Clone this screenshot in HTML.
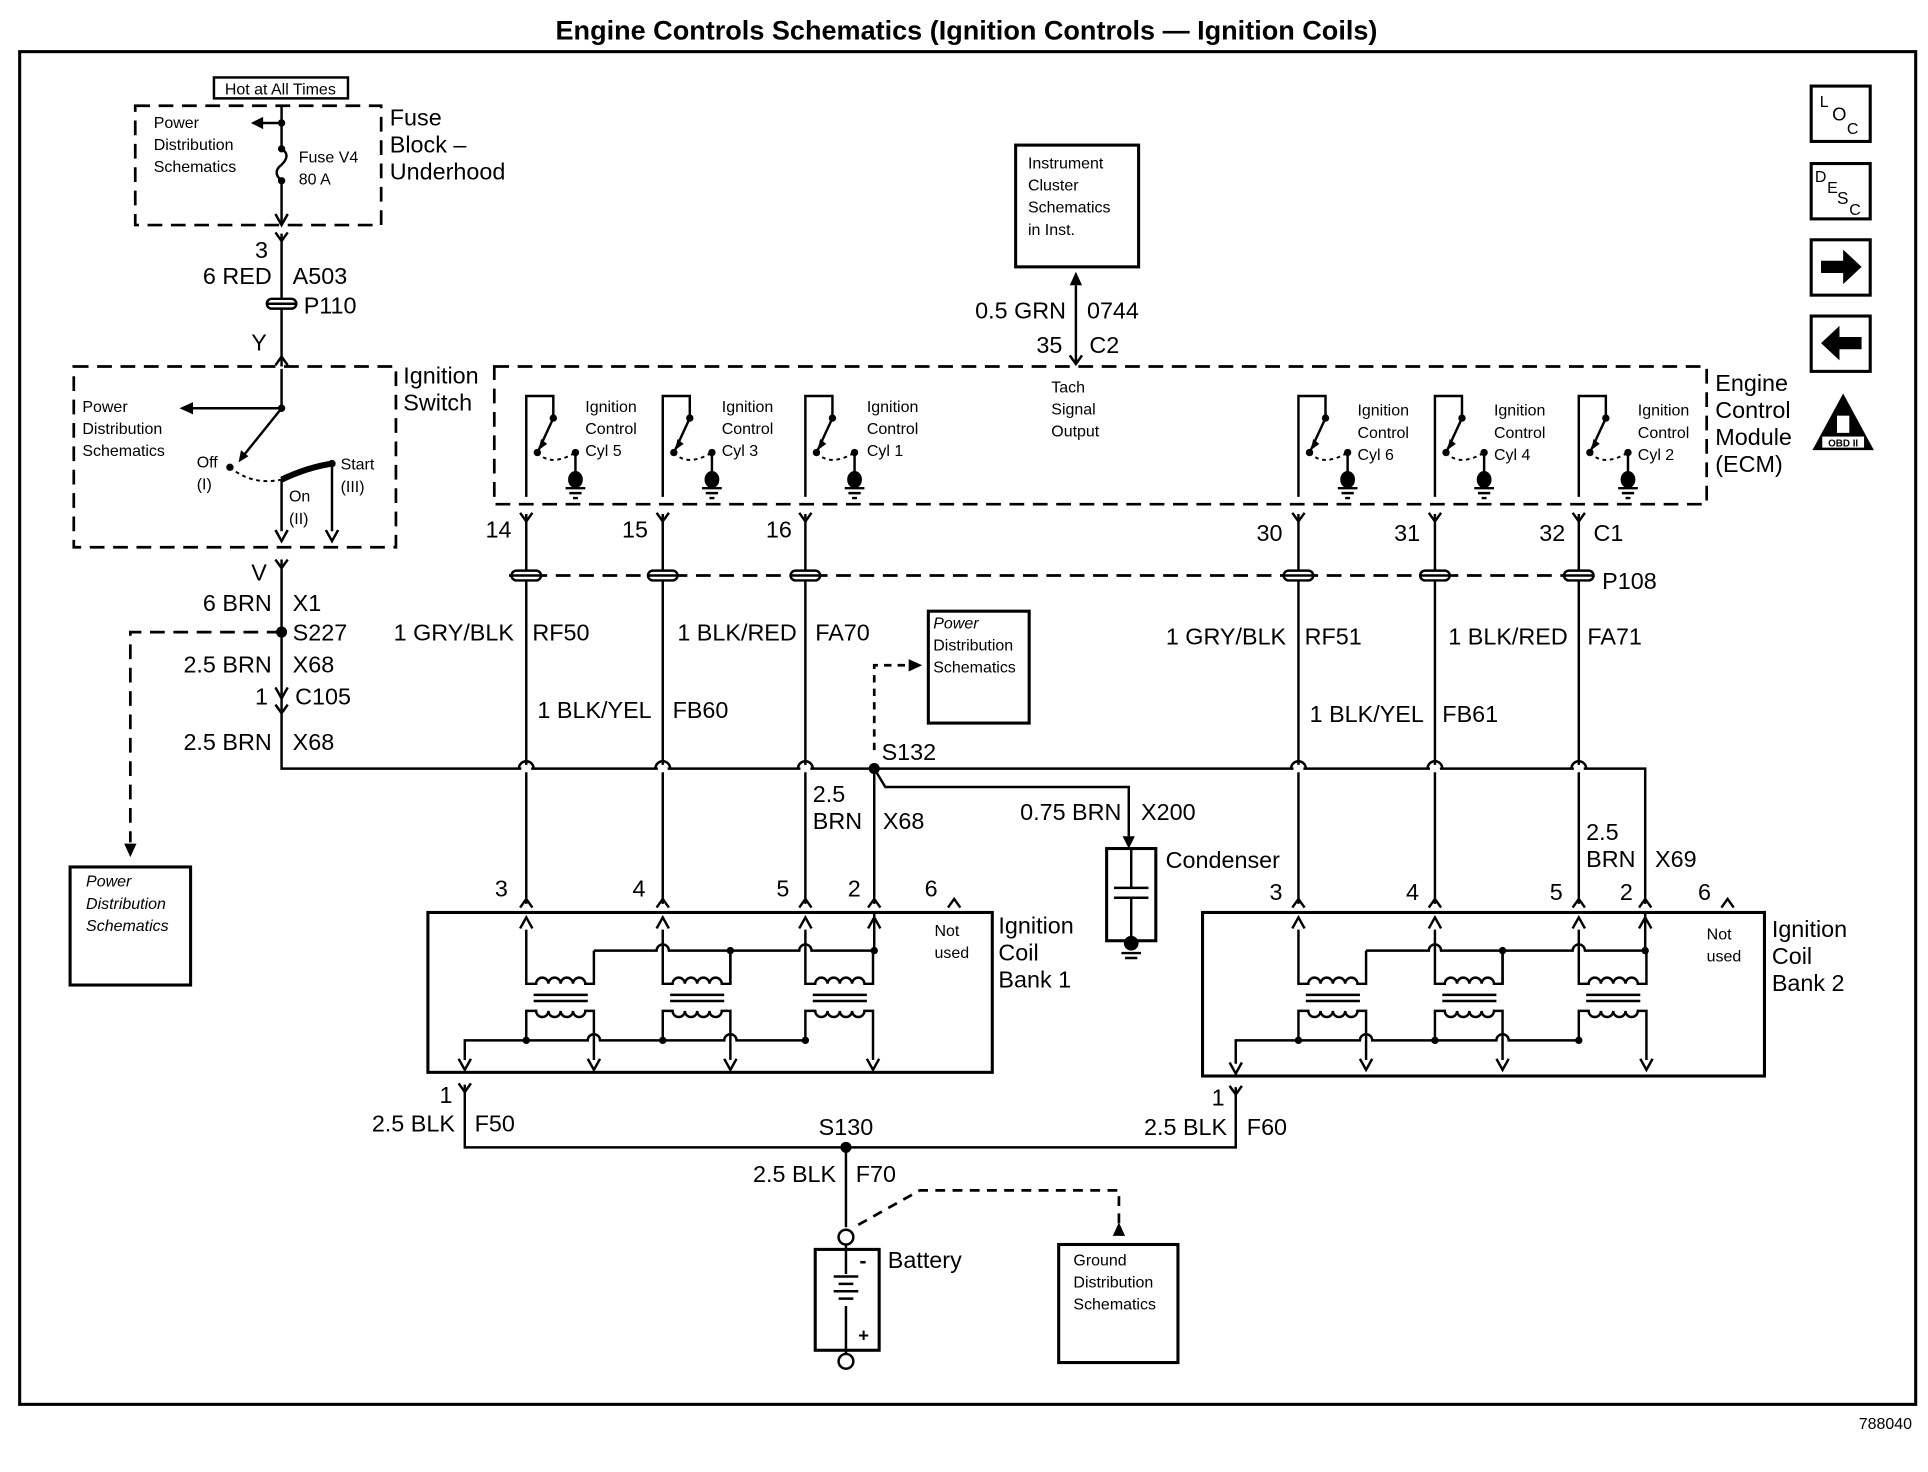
<!DOCTYPE html>
<html><head><meta charset="utf-8"><style>
html,body{margin:0;padding:0;background:#fff}
svg{display:block}
text{font-family:"Liberation Sans",Arial,sans-serif;fill:#000}
.l{font-size:19px}
.s{font-size:13px}
.w{stroke:#000;stroke-width:2;fill:none}
.d{stroke:#000;stroke-width:2.2;fill:none;stroke-dasharray:12,7}
.dt{stroke:#000;stroke-width:1.6;fill:none;stroke-dasharray:3,3}
</style></head><body>
<svg width="1928" height="1472" viewBox="0 0 1568 1197" preserveAspectRatio="none" xmlns="http://www.w3.org/2000/svg">
<defs>
<path id="up" d="M-5,9 L0,0 L5,9" class="w"/>
<path id="dn" d="M-5,-9 L0,0 L5,-9" class="w"/>
<path id="fk" d="M-5,-7 L0,0 L5,-7" class="w"/>
<path id="ch" d="M-5,0 L0,-7 L5,0" class="w"/>
<g id="conn"><rect x="-12" y="-4" width="24" height="8" rx="4" fill="#fff" stroke="#000" stroke-width="2"/><line x1="-12" y1="0" x2="12" y2="0" stroke="#000" stroke-width="2"/></g>
<g id="sw">
<path class="w" d="M0,106 V24 H22 V42 L10,68"/>
<path d="M10,68 l2,-9 l5,4z" fill="#000"/>
<circle cx="22" cy="42" r="3"/><circle cx="9" cy="70" r="3"/><circle cx="40" cy="70" r="3"/>
<path class="dt" d="M9,70 Q20,82 40,70"/>
<path class="w" d="M40,70 V88"/>
<ellipse cx="40" cy="92" rx="6" ry="7"/>
<path class="w" d="M32,99 H48 M35,103 H45 M38,107 H42"/>
</g>
<g id="coil">
<path class="w" d="M0,756 V800 H8 a5,5 0 0 1 10,0 a5,5 0 0 1 10,0 a5,5 0 0 1 10,0 a5,5 0 0 1 10,0 H55 V773"/>
<path class="w" d="M6,809 H50 M6,814 H50" stroke-width="2.5"/>
<path class="w" d="M0,846 V822 H8 a5,5 0 0 0 10,0 a5,5 0 0 0 10,0 a5,5 0 0 0 10,0 a5,5 0 0 0 10,0 H55 V862"/>
<use href="#dn" x="55" y="870"/>
<use href="#up" x="0" y="746"/>
<circle cx="0" cy="846" r="3"/>
</g>
</defs>

<text x="786" y="32" text-anchor="middle" style="font-size:22px;font-weight:bold">Engine Controls Schematics (Ignition Controls — Ignition Coils)</text>
<rect x="16" y="42" width="1542" height="1100" fill="none" stroke="#000" stroke-width="2.5"/>
<text x="1555" y="1162" text-anchor="end" class="s">788040</text>

<rect x="1473" y="70" width="48" height="45" fill="none" stroke="#000" stroke-width="2.5"/>
<text x="1480" y="87" class="s">L</text><text x="1490" y="98" style="font-size:15px">O</text><text x="1502" y="109" class="s">C</text>
<rect x="1473" y="133" width="48" height="45" fill="none" stroke="#000" stroke-width="2.5"/>
<text x="1476" y="148" class="s">D</text><text x="1486" y="157" class="s">E</text><text x="1494" y="166" style="font-size:14px">S</text><text x="1504" y="175" class="s">C</text>
<rect x="1473" y="195" width="48" height="45" fill="none" stroke="#000" stroke-width="2.5"/>
<path d="M1481,212 H1499 V203 L1514,217 L1499,231 V222 H1481z"/>
<rect x="1473" y="257" width="48" height="45" fill="none" stroke="#000" stroke-width="2.5"/>
<path d="M1514,274 H1496 V265 L1481,279 L1496,293 V284 H1514z"/>
<path d="M1499,320 L1524,366 H1474z"/>
<rect x="1494" y="338" width="10" height="14" fill="#fff"/>
<rect x="1482" y="355" width="34" height="9" fill="#fff"/>
<text x="1499" y="363" text-anchor="middle" style="font-size:8px;font-weight:bold">OBD II</text>

<rect x="174" y="63" width="109" height="17" fill="none" stroke="#000" stroke-width="2"/>
<text x="228" y="77" text-anchor="middle" class="s">Hot at All Times</text>
<rect x="110" y="86" width="200" height="97" class="d"/>
<text x="125" y="104" class="s">Power</text><text x="125" y="122" class="s">Distribution</text><text x="125" y="140" class="s">Schematics</text>
<path class="w" d="M229,86 V120 M229,100 H212 M229,148 V183"/>
<path d="M204,100 l10,-5 v10z"/>
<circle cx="229" cy="100" r="3"/><circle cx="229" cy="121" r="3"/><circle cx="229" cy="147" r="3"/>
<path class="w" d="M229,121 q8,5 0,13 q-8,6 0,13"/>
<text x="243" y="132" class="s">Fuse V4</text><text x="243" y="150" class="s">80 A</text>
<text x="317" y="102" class="l">Fuse</text><text x="317" y="124" class="l">Block –</text><text x="317" y="146" class="l">Underhood</text>
<use href="#dn" x="229" y="183"/><use href="#fk" x="229" y="196"/>
<path class="w" d="M229,190 V298"/>
<text x="218" y="210" text-anchor="end" class="l">3</text>
<text x="221" y="231" text-anchor="end" class="l">6 RED</text><text x="238" y="231" class="l">A503</text>
<use href="#conn" x="229" y="247"/><text x="247" y="255" class="l">P110</text>
<text x="217" y="285" text-anchor="end" class="l">Y</text>
<use href="#ch" x="229" y="297"/>

<rect x="60" y="298" width="262" height="147" class="d"/>
<text x="328" y="312" class="l">Ignition</text><text x="328" y="334" class="l">Switch</text>
<text x="67" y="335" class="s">Power</text><text x="67" y="353" class="s">Distribution</text><text x="67" y="371" class="s">Schematics</text>
<path class="w" d="M229,300 V332 H156"/><path d="M146,332 l11,-5 v10z"/>
<circle cx="229" cy="332" r="3"/>
<path class="w" d="M229,332 L196,373"/><path d="M194,376 l2,-10 l6,5z"/>
<circle cx="187" cy="380" r="3"/>
<path class="dt" d="M187,380 Q205,395 229,390"/>
<path d="M229,390 Q250,380 270,377" stroke="#000" stroke-width="5" fill="none"/>
<circle cx="270" cy="377" r="3"/>
<path class="w" d="M229,390 V432 M270,377 V432"/>
<use href="#dn" x="229" y="440"/><use href="#dn" x="270" y="440"/>
<text x="160" y="380" class="s">Off</text><text x="160" y="398" class="s">(I)</text>
<text x="235" y="408" class="s">On</text><text x="235" y="426" class="s">(II)</text>
<text x="277" y="382" class="s">Start</text><text x="277" y="400" class="s">(III)</text>

<use href="#fk" x="229" y="462"/>
<path class="w" d="M229,455 V625 H1338 V735"/>
<text x="217" y="472" text-anchor="end" class="l">V</text>
<text x="221" y="497" text-anchor="end" class="l">6 BRN</text><text x="238" y="497" class="l">X1</text>
<circle cx="229" cy="514" r="4.5"/><text x="238" y="521" class="l">S227</text>
<text x="221" y="547" text-anchor="end" class="l">2.5 BRN</text><text x="238" y="547" class="l">X68</text>
<text x="218" y="573" text-anchor="end" class="l">1</text><text x="240" y="573" class="l">C105</text>
<use href="#dn" x="229" y="568"/><use href="#fk" x="229" y="580"/>
<text x="221" y="610" text-anchor="end" class="l">2.5 BRN</text><text x="238" y="610" class="l">X68</text>
<path class="d" d="M229,514 H106 V685"/><path d="M106,697 l-5,-11 h10z"/>
<rect x="57" y="705" width="98" height="96" fill="none" stroke="#000" stroke-width="2.5"/>
<text x="70" y="721" class="s" font-style="italic">Power</text><text x="70" y="739" class="s" font-style="italic">Distribution</text><text x="70" y="757" class="s" font-style="italic">Schematics</text>

<rect x="826" y="118" width="100" height="99" fill="none" stroke="#000" stroke-width="2.5"/>
<text x="836" y="137" class="s">Instrument</text><text x="836" y="155" class="s">Cluster</text><text x="836" y="173" class="s">Schematics</text><text x="836" y="191" class="s">in Inst.</text>
<path class="w" d="M875,232 V296"/><path d="M875,221 l-5,11 h10z"/>
<text x="867" y="259" text-anchor="end" class="l">0.5 GRN</text><text x="884" y="259" class="l">0744</text>
<text x="864" y="287" text-anchor="end" class="l">35</text><text x="886" y="287" class="l">C2</text>
<use href="#fk" x="875" y="296"/>

<rect x="402" y="298" width="986" height="112" class="d"/>
<text x="1395" y="318" class="l">Engine</text><text x="1395" y="340" class="l">Control</text><text x="1395" y="362" class="l">Module</text><text x="1395" y="384" class="l">(ECM)</text>
<text x="855" y="319" class="s">Tach</text><text x="855" y="337" class="s">Signal</text><text x="855" y="355" class="s">Output</text>
<g>
<use href="#sw" x="428" y="298"/><use href="#sw" x="539" y="298"/><use href="#sw" x="655" y="298"/>
<use href="#sw" x="1056" y="298"/><use href="#sw" x="1167" y="298"/><use href="#sw" x="1284" y="298"/>
</g>
<g class="s">
<text x="476" y="335">Ignition</text><text x="476" y="353">Control</text><text x="476" y="371">Cyl 5</text>
<text x="587" y="335">Ignition</text><text x="587" y="353">Control</text><text x="587" y="371">Cyl 3</text>
<text x="705" y="335">Ignition</text><text x="705" y="353">Control</text><text x="705" y="371">Cyl 1</text>
<text x="1104" y="338">Ignition</text><text x="1104" y="356">Control</text><text x="1104" y="374">Cyl 6</text>
<text x="1215" y="338">Ignition</text><text x="1215" y="356">Control</text><text x="1215" y="374">Cyl 4</text>
<text x="1332" y="338">Ignition</text><text x="1332" y="356">Control</text><text x="1332" y="374">Cyl 2</text>
</g>
<path class="d" d="M414,468 H1290"/>
<g>
<use href="#fk" x="428" y="424"/><use href="#fk" x="539" y="424"/><use href="#fk" x="655" y="424"/>
<use href="#fk" x="1056" y="424"/><use href="#fk" x="1167" y="424"/><use href="#fk" x="1284" y="424"/>
<path class="w" d="M428,418 V735 M539,418 V735 M655,418 V735 M1056,418 V735 M1167,418 V735 M1284,418 V735"/>
<use href="#conn" x="428" y="468"/><use href="#conn" x="539" y="468"/><use href="#conn" x="655" y="468"/>
<use href="#conn" x="1056" y="468"/><use href="#conn" x="1167" y="468"/><use href="#conn" x="1284" y="468"/>
</g>
<g class="l">
<text x="416" y="437" text-anchor="end">14</text><text x="527" y="437" text-anchor="end">15</text><text x="644" y="437" text-anchor="end">16</text>
<text x="1043" y="440" text-anchor="end">30</text><text x="1155" y="440" text-anchor="end">31</text><text x="1273" y="440" text-anchor="end">32</text>
<text x="1296" y="440">C1</text><text x="1303" y="479">P108</text>
<text x="418" y="521" text-anchor="end">1 GRY/BLK</text><text x="433" y="521">RF50</text>
<text x="648" y="521" text-anchor="end">1 BLK/RED</text><text x="663" y="521">FA70</text>
<text x="530" y="584" text-anchor="end">1 BLK/YEL</text><text x="547" y="584">FB60</text>
<text x="1046" y="524" text-anchor="end">1 GRY/BLK</text><text x="1061" y="524">RF51</text>
<text x="1275" y="524" text-anchor="end">1 BLK/RED</text><text x="1291" y="524">FA71</text>
<text x="1158" y="587" text-anchor="end">1 BLK/YEL</text><text x="1173" y="587">FB61</text>
</g>
<g fill="#fff" stroke="none"><rect x="424" y="622" width="8" height="6"/><rect x="535" y="622" width="8" height="6"/><rect x="651" y="622" width="8" height="6"/><rect x="1052" y="622" width="8" height="6"/><rect x="1163" y="622" width="8" height="6"/><rect x="1280" y="622" width="8" height="6"/></g>
<path class="w" d="M422,625 a6,6 0 0 1 12,0 M533,625 a6,6 0 0 1 12,0 M649,625 a6,6 0 0 1 12,0 M1050,625 a6,6 0 0 1 12,0 M1161,625 a6,6 0 0 1 12,0 M1278,625 a6,6 0 0 1 12,0"/>

<circle cx="711" cy="625" r="4.5"/><text x="717" y="618" class="l">S132</text>
<path class="w" d="M711,625 V735 M711,625 L720,640 H918 V680"/>
<path d="M918,690 l-5,-10 h10z"/>
<path class="d" d="M711,610 V541 H737" style="stroke-dasharray:6,5"/><path d="M750,541 l-11,-5 v10z"/>
<rect x="755" y="497" width="82" height="91" fill="none" stroke="#000" stroke-width="2.5"/>
<text x="759" y="511" class="s" font-style="italic">Power</text><text x="759" y="529" class="s">Distribution</text><text x="759" y="547" class="s">Schematics</text>
<text x="661" y="652" class="l">2.5</text><text x="661" y="674" class="l">BRN</text><text x="718" y="674" class="l">X68</text>
<text x="912" y="667" text-anchor="end" class="l">0.75 BRN</text><text x="928" y="667" class="l">X200</text>
<text x="1290" y="683" class="l">2.5</text><text x="1290" y="705" class="l">BRN</text><text x="1346" y="705" class="l">X69</text>

<rect x="900" y="690" width="40" height="75" fill="none" stroke="#000" stroke-width="2.5"/>
<path class="w" d="M920,690 V722 M906,722 H934 M906,730 H934 M920,730 V770"/>
<ellipse cx="920" cy="767" rx="6" ry="6"/>
<path class="w" d="M912,775 H928 M915,779 H925"/>
<text x="948" y="706" class="l">Condenser</text>

<rect x="348" y="742" width="459" height="130" fill="none" stroke="#000" stroke-width="2.5"/>
<g class="l"><text x="413" y="729" text-anchor="end">3</text><text x="525" y="729" text-anchor="end">4</text><text x="642" y="729" text-anchor="end">5</text><text x="700" y="729" text-anchor="end">2</text><text x="752" y="729">6</text>
<text x="812" y="759">Ignition</text><text x="812" y="781">Coil</text><text x="812" y="803">Bank 1</text></g>
<text x="760" y="761" class="s">Not</text><text x="760" y="779" class="s">used</text>
<use href="#ch" x="428" y="738"/><use href="#ch" x="539" y="738"/><use href="#ch" x="655" y="738"/><use href="#ch" x="711" y="738"/><use href="#ch" x="776" y="738"/>
<use href="#coil" x="428"/><use href="#coil" x="539"/><use href="#coil" x="655"/>
<path class="w" d="M711,742 V773 M483,773 H534 a5,5 0 0 1 10,0 H650 a5,5 0 0 1 10,0 H711"/>
<path class="w" d="M594,773 V800"/><circle cx="594" cy="773" r="3"/><circle cx="711" cy="773" r="3"/><use href="#up" x="711" y="746"/>
<path class="w" d="M378,862 V846 H478 a5,5 0 0 1 10,0 H589 a5,5 0 0 1 10,0 H655"/><use href="#dn" x="378" y="870"/>

<rect x="978" y="742" width="457" height="133" fill="none" stroke="#000" stroke-width="2.5"/>
<g class="l"><text x="1043" y="732" text-anchor="end">3</text><text x="1154" y="732" text-anchor="end">4</text><text x="1271" y="732" text-anchor="end">5</text><text x="1328" y="732" text-anchor="end">2</text><text x="1381" y="732">6</text>
<text x="1441" y="762">Ignition</text><text x="1441" y="784">Coil</text><text x="1441" y="806">Bank 2</text></g>
<text x="1388" y="764" class="s">Not</text><text x="1388" y="782" class="s">used</text>
<use href="#ch" x="1056" y="738"/><use href="#ch" x="1167" y="738"/><use href="#ch" x="1284" y="738"/><use href="#ch" x="1338" y="738"/><use href="#ch" x="1405" y="738"/>
<use href="#coil" x="1056"/><use href="#coil" x="1167"/><use href="#coil" x="1284"/>
<path class="w" d="M1338,742 V773 M1111,773 H1162 a5,5 0 0 1 10,0 H1279 a5,5 0 0 1 10,0 H1338"/>
<path class="w" d="M1222,773 V800"/><circle cx="1222" cy="773" r="3"/><circle cx="1338" cy="773" r="3"/><use href="#up" x="1338" y="746"/>
<path class="w" d="M1005,865 V846 H1106 a5,5 0 0 1 10,0 H1217 a5,5 0 0 1 10,0 H1284"/><use href="#dn" x="1005" y="873"/>

<use href="#fk" x="378" y="888"/><use href="#fk" x="1005" y="890"/>
<path class="w" d="M378,882 V933 H1005 V884 M688,933 V998"/>
<text x="368" y="897" text-anchor="end" class="l">1</text><text x="996" y="899" text-anchor="end" class="l">1</text>
<text x="370" y="920" text-anchor="end" class="l">2.5 BLK</text><text x="386" y="920" class="l">F50</text>
<text x="998" y="923" text-anchor="end" class="l">2.5 BLK</text><text x="1014" y="923" class="l">F60</text>
<circle cx="688" cy="933" r="4.5"/><text x="688" y="923" text-anchor="middle" class="l">S130</text>
<text x="680" y="961" text-anchor="end" class="l">2.5 BLK</text><text x="696" y="961" class="l">F70</text>
<circle cx="688" cy="1006" r="6" fill="#fff" stroke="#000" stroke-width="2"/>
<path class="w" d="M688,1012 V1036 M688,1062 V1101"/>
<rect x="663" y="1016" width="52" height="82" fill="none" stroke="#000" stroke-width="2.5"/>
<path class="w" d="M678,1038 H698 M682,1044 H694 M678,1050 H698 M682,1056 H694"/>
<text x="699" y="1031" style="font-size:17px;font-weight:bold">-</text><text x="698" y="1091" style="font-size:15px;font-weight:bold">+</text>
<circle cx="688" cy="1107" r="6" fill="#fff" stroke="#000" stroke-width="2"/>
<text x="722" y="1031" class="l">Battery</text>
<path class="d" d="M698,996 L748,968 H910 V995" style="stroke-dasharray:8,6"/><path d="M910,994 l-5,11 h10z"/>
<rect x="861" y="1012" width="97" height="96" fill="none" stroke="#000" stroke-width="2.5"/>
<text x="873" y="1029" class="s">Ground</text><text x="873" y="1047" class="s">Distribution</text><text x="873" y="1065" class="s">Schematics</text>
</svg>
</body></html>
